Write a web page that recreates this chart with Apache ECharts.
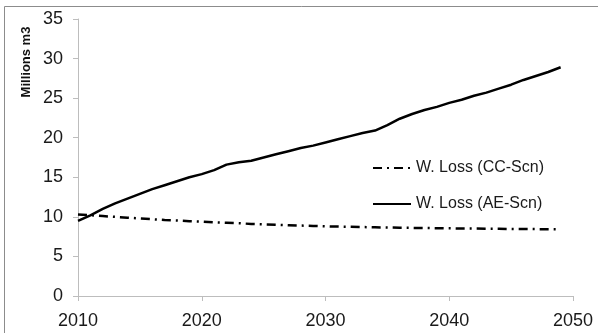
<!DOCTYPE html>
<html>
<head>
<meta charset="utf-8">
<script src="https://cdn.jsdelivr.net/npm/echarts@6/dist/echarts.min.js"></script>
<style>
  html, body { margin: 0; padding: 0; background: #fff; }
  #main { width: 598px; height: 333px; }
</style>
</head>
<body>
<div id="main"></div>
<script>
var years = [];
for (var y = 2010; y <= 2049; y++) years.push(y);

// W. Loss (CC-Scn)
var ccValues = [10.3, 10.2, 10.1, 10.0, 9.9, 9.8, 9.7, 9.6, 9.55, 9.45,
                9.4, 9.3, 9.25, 9.2, 9.1, 9.05, 9.0, 8.95, 8.9, 8.85,
                8.8, 8.77, 8.74, 8.71, 8.68, 8.65, 8.63, 8.61, 8.59, 8.57,
                8.55, 8.53, 8.52, 8.5, 8.49, 8.47, 8.46, 8.45, 8.44, 8.43];
// W. Loss (AE-Scn)
var aeValues = [9.5, 10.2, 11.0, 11.7, 12.3, 12.9, 13.5, 14.0, 14.5, 15.0,
                15.4, 15.9, 16.6, 16.9, 17.1, 17.5, 17.9, 18.3, 18.7, 19.0,
                19.4, 19.8, 20.2, 20.6, 20.9, 21.6, 22.4, 23.0, 23.5, 23.9,
                24.4, 24.8, 25.3, 25.7, 26.2, 26.7, 27.3, 27.8, 28.3, 28.9];

var seriesNames = ['W. Loss (CC-Scn)', 'W. Loss (AE-Scn)'];

function pairs(vals) {
    return vals.map(function (v, i) { return [years[i], v]; });
}

var chart = echarts.init(document.getElementById('main'));
var axisColor = '#bdbdbd';
var textColor = '#1a1a1a';
var option = {
    animation: false,
    textStyle: { fontFamily: 'Liberation Sans' },
    grid: { left: 78, right: 25, top: 19, bottom: 37 },
    legend: {
        orient: 'vertical',
        left: 367,
        top: 155,
        itemWidth: 38,
        itemHeight: 14,
        itemGap: 20,
        itemStyle: { opacity: 0 },
        textStyle: { fontSize: 16, color: textColor, fontFamily: 'Liberation Sans' },
        data: seriesNames
    },
    xAxis: {
        type: 'value',
        min: 2010,
        max: 2050,
        interval: 10,
        axisLine: { show: true, lineStyle: { color: axisColor } },
        axisTick: { show: true, length: 5, lineStyle: { color: axisColor } },
        axisLabel: { fontSize: 18, color: textColor, margin: 16, formatter: function (v) { return String(v); } },
        splitLine: { show: false }
    },
    yAxis: {
        type: 'value',
        min: 0,
        max: 35,
        interval: 5,
        axisLine: { show: true, lineStyle: { color: axisColor } },
        axisTick: { show: true, length: 5, lineStyle: { color: axisColor } },
        axisLabel: { fontSize: 18, color: textColor, margin: 15 },
        splitLine: { show: false }
    },
    graphic: [
        {
            type: 'rect',
            shape: { x: 4.5, y: 6.5, width: 600, height: 340 },
            style: { fill: 'none', stroke: '#8c8c8c', lineWidth: 1 },
            silent: true
        },
        {
            type: 'text',
            x: 26,
            y: 62,
            rotation: Math.PI / 2,
            style: {
                text: 'Millions m3',
                fontSize: 13,
                fontWeight: 'bold',
                fontFamily: 'Liberation Sans',
                fill: '#111',
                align: 'center',
                verticalAlign: 'middle'
            }
        }
    ],
    series: [
        {
            name: seriesNames[0],
            type: 'line',
            symbol: 'none',
            data: pairs(ccValues),
            lineStyle: { color: '#000', width: 2.5, type: [9, 5, 2, 5] },
            itemStyle: { color: '#000' }
        },
        {
            name: seriesNames[1],
            type: 'line',
            symbol: 'none',
            data: pairs(aeValues),
            lineStyle: { color: '#000', width: 2.5, type: 'solid' },
            itemStyle: { color: '#000' }
        }
    ]
};
chart.setOption(option);
window.addEventListener('resize', function () {
    chart.resize();
});
</script>
</body>
</html>
